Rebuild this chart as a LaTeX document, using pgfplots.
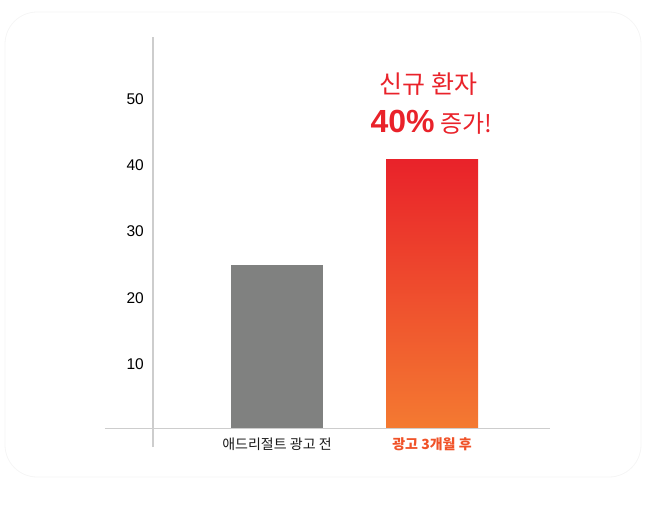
\documentclass[border=0pt]{standalone}
\usepackage{pgfplots}
\pgfplotsset{compat=1.18}
\usepackage{fontspec}
\setmainfont{Liberation Sans}
\newfontfamily\kr{Noto Sans CJK KR}
\definecolor{barGray}{RGB}{128,129,128}
\definecolor{adRed}{RGB}{233,34,42}
\definecolor{adOrange}{RGB}{244,122,49}
\definecolor{lblOrange}{RGB}{240,82,40}
\definecolor{axisGray}{RGB}{205,205,205}

\begin{document}
\begin{tikzpicture}
\path[use as bounding box] (0,0) rectangle (650bp,-527bp);
% faint card outline
\draw[black!4, line width=0.8bp, rounded corners=32bp] (5bp,-12bp) rectangle (641bp,-477bp);
\begin{axis}[
  at={(153bp,-447bp)}, anchor=south west,
  scale only axis,
  x=155bp, y=6.63bp,
  xmin=-0.8, xmax=1.761,
  ymin=-2.82, ymax=59.02,
  enlargelimits=false,
  axis lines*=left,
  axis line style={draw=none},
  major tick length=0pt,
  clip=false,
  ytick={10,20,30,40,50},
  xtick={0,1},
  xticklabels={{\color{black!90}애드리절트 광고 전},{\color{lblOrange}\bfseries 광고 3개월 후}},
  x tick label style={font=\kr\fontsize{14bp}{16bp}\selectfont, anchor=base, yshift=-2bp},
  y tick label style={font=\fontsize{15.5bp}{18bp}\selectfont, anchor=east, inner sep=0pt, xshift=-9bp, yshift=-2bp},
  /pgf/number format/assume math mode=true,
  ybar, bar width=92bp, bar shift=0pt,
]
\addplot[fill=barGray, draw=none] coordinates {(0,24.6)};
\addplot[draw=none, top color=adRed, bottom color=adOrange] coordinates {(1,40.6)};
% axis lines
\draw[axisGray, line width=1.5bp] (axis cs:-1.11,0) -- (axis cs:1.761,0);
\draw[axisGray, line width=1.5bp] (axis cs:-0.8,-2.82) -- (axis cs:-0.8,59.02);
\end{axis}
\node[text=adRed, font=\kr\fontsize{25bp}{28bp}\selectfont, inner sep=0pt] at (428.4bp,-84.5bp) {신규 환자};
\node[text=adRed, inner sep=0pt] at (431.5bp,-122bp)
  {{\fontsize{32bp}{34bp}\selectfont\bfseries 40\%}\hspace{6bp}{\kr\fontsize{24bp}{28bp}\selectfont 증가!}};
\end{tikzpicture}
\end{document}
